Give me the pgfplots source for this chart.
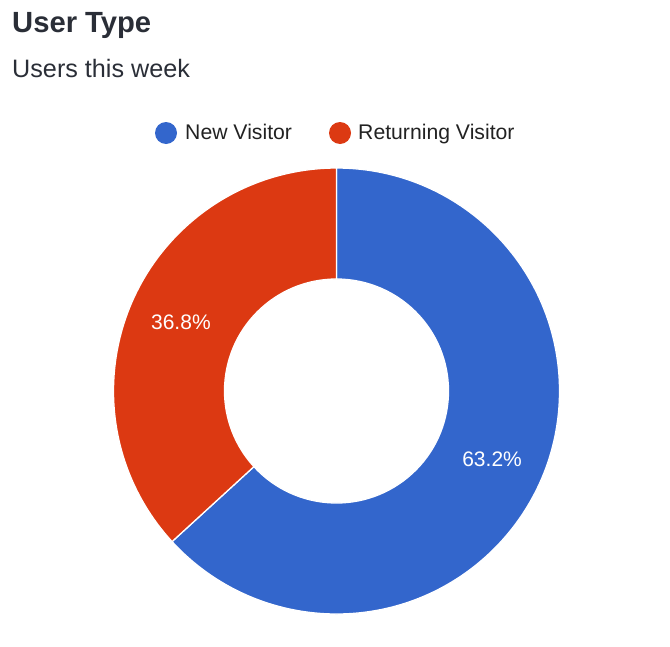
\documentclass[border=0pt]{standalone}
\usepackage{pgfplots}
\pgfplotsset{compat=1.18}
\usepackage{pgfplotstable}
\usepackage{fontspec}
\setmainfont{Liberation Sans}
\definecolor{newblue}{HTML}{3366CC}
\definecolor{retred}{HTML}{DC3912}
\definecolor{titlecol}{HTML}{2A2E37}
\definecolor{legcol}{HTML}{222222}

% share of users, percent
\pgfplotstableread{
label share
New 63.2
Returning 36.8
}\usertype

\begin{document}
\begin{tikzpicture}
\pgfplotstablegetelem{0}{share}\of\usertype \let\sNew\pgfplotsretval
\pgfplotstablegetelem{1}{share}\of\usertype \let\sRet\pgfplotsretval
\pgfmathsetmacro\aEnd{90-3.6*\sNew}
\pgfmathsetmacro\aRet{\aEnd-3.6*\sRet}
\pgfmathsetmacro\mNew{90-1.8*\sNew}
\pgfmathsetmacro\mRet{\aEnd-1.8*\sRet}
\begin{axis}[
  width=670bp, height=646bp, scale only axis,
  xmin=0, xmax=670, ymin=0, ymax=646, y dir=reverse,
  hide axis, clip=false,
]
\path (axis cs:0,0) rectangle (axis cs:670,646);
% donut slices
\filldraw[fill=newblue, draw=white, line width=1.3bp]
  (axis cs:336.5,391) ++(90:223bp) arc[start angle=90, end angle=\aEnd, radius=223bp]
  -- ++(\aEnd:-111bp) arc[start angle=\aEnd, end angle=90, radius=112bp] -- cycle;
\filldraw[fill=retred, draw=white, line width=1.3bp]
  (axis cs:336.5,391) ++(\aEnd:223bp) arc[start angle=\aEnd, end angle=\aRet, radius=223bp]
  -- ++(\aRet:-111bp) arc[start angle=\aRet, end angle=\aEnd, radius=112bp] -- cycle;
% slice labels
\path (axis cs:336.5,391) ++(\mNew:170bp) node[text=white, inner sep=0pt,
  font=\fontsize{21bp}{24bp}\selectfont] {\pgfmathprintnumber[fixed,precision=1,fixed zerofill,assume math mode=true]{\sNew}\%};
\path (axis cs:336.5,391) ++(\mRet:170bp) node[text=white, inner sep=0pt,
  font=\fontsize{21bp}{24bp}\selectfont] {\pgfmathprintnumber[fixed,precision=1,fixed zerofill,assume math mode=true]{\sRet}\%};
% titles
\node[anchor=base west, inner sep=0pt, text=titlecol,
  font=\fontsize{29.2bp}{34bp}\selectfont\bfseries] at (axis cs:12,33) {User Type};
\node[anchor=base west, inner sep=0pt, text=titlecol,
  font=\fontsize{25.2bp}{29bp}\selectfont] at (axis cs:12,77) {Users this week};
% legend
\fill[newblue] (axis cs:166,133) circle[radius=11bp];
\node[anchor=base west, inner sep=0pt, text=legcol,
  font=\fontsize{21.2bp}{24bp}\selectfont] at (axis cs:185,139) {New Visitor};
\fill[retred] (axis cs:340,133) circle[radius=11bp];
\node[anchor=base west, inner sep=0pt, text=legcol,
  font=\fontsize{21.2bp}{24bp}\selectfont] at (axis cs:358,139) {Returning Visitor};
\end{axis}
\end{tikzpicture}
\end{document}
